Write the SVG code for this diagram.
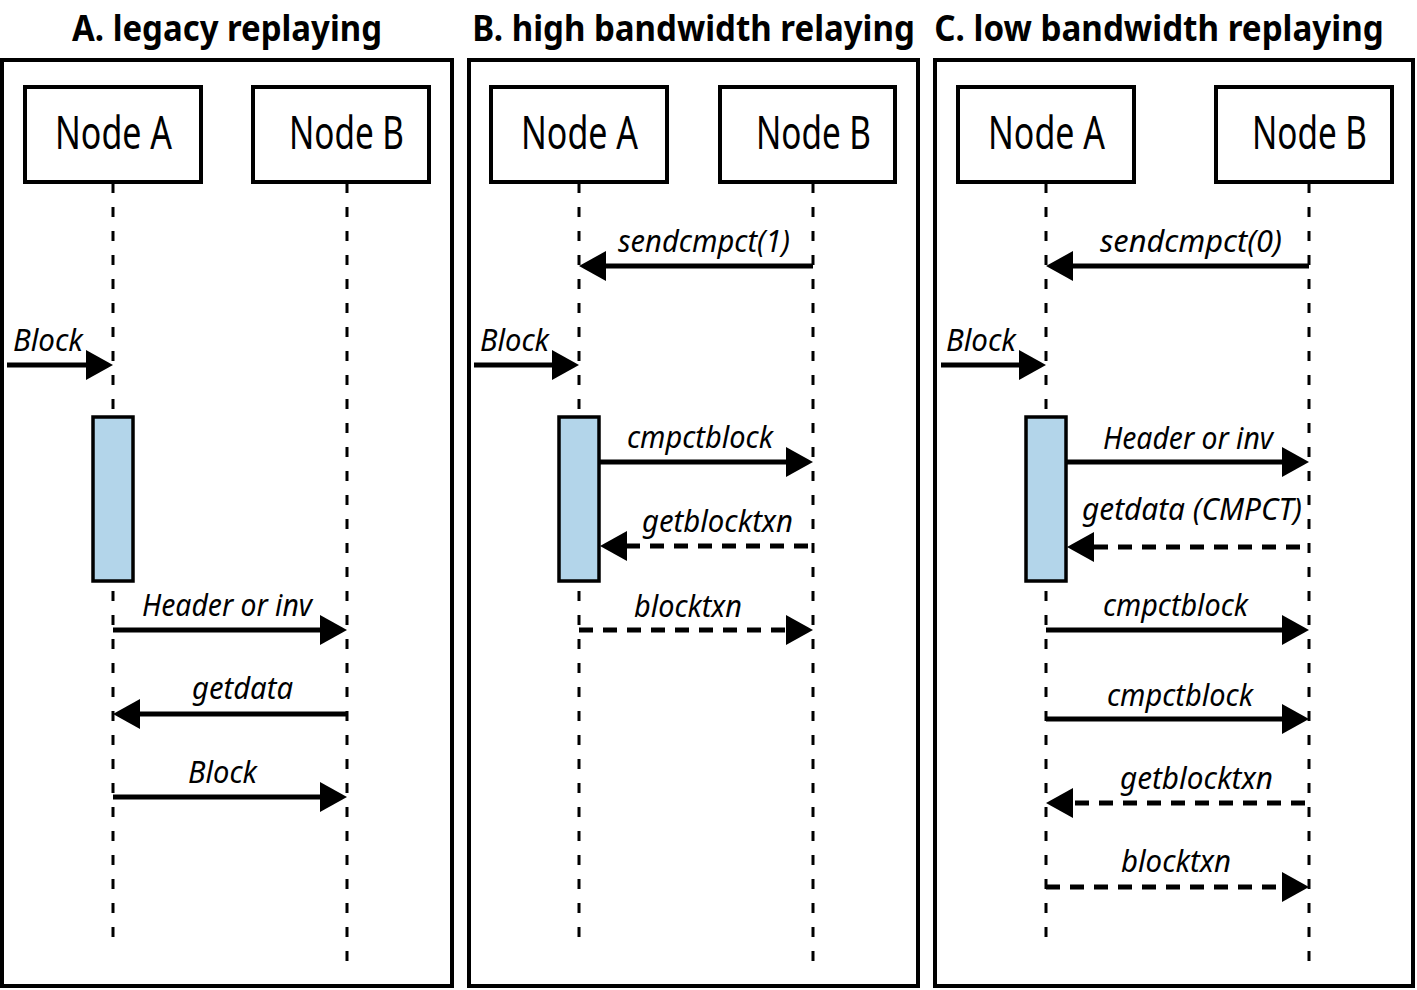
<svg xmlns="http://www.w3.org/2000/svg" width="1417" height="990" viewBox="0 0 1417 990">
<style>
.bg{fill:#fff}
.frame{fill:none;stroke:#000;stroke-width:4}
.box{fill:#fff;stroke:#000;stroke-width:4}
.act{fill:#b3d5ea;stroke:#000;stroke-width:3.5}
.life{stroke:#000;stroke-width:3;stroke-dasharray:10 14;fill:none}
.msg{stroke:#000;stroke-width:5;fill:none;marker-end:url(#ah)}
.dash{stroke-dasharray:14 10}
.title{font-family:"Noto Sans","Open Sans","Liberation Sans",sans-serif;font-weight:bold;font-size:36px;text-anchor:middle;fill:#000}
.nt{font-family:"Noto Sans","Open Sans","Liberation Sans",sans-serif;font-size:45px;text-anchor:middle;fill:#000}
.lbl{font-family:"Noto Sans","Open Sans","Liberation Sans",sans-serif;font-style:italic;font-size:31px;text-anchor:middle;fill:#000}
</style>
<defs>
<marker id="ah" viewBox="0 0 27 30" refX="17" refY="15" markerWidth="27" markerHeight="30" markerUnits="userSpaceOnUse" orient="auto">
<path d="M0,0 L27,15 L0,30 Z" fill="#000"/>
</marker>
</defs>
<rect class="bg" x="0" y="0" width="1417" height="990"/>

<g id="panelA">
<text class="title" transform="translate(227,41) scale(0.84,1)" x="0" y="0" textLength="369" lengthAdjust="spacingAndGlyphs">A. legacy replaying</text>
<rect class="frame" x="2" y="60" width="450" height="926"/>
</g>
<g id="panelB">
<text class="title" transform="translate(693.5,41) scale(0.84,1)" x="0" y="0" textLength="527" lengthAdjust="spacingAndGlyphs">B. high bandwidth relaying</text>
<rect class="frame" x="469" y="60" width="449" height="926"/>
</g>
<g id="panelC">
<text class="title" transform="translate(1159,41) scale(0.84,1)" x="0" y="0" textLength="535" lengthAdjust="spacingAndGlyphs">C. low bandwidth replaying</text>
<rect class="frame" x="935" y="60" width="478" height="926"/>
</g>

<g id="A-nodeA">
<line class="life" x1="113" y1="183" x2="113" y2="944"/>
<rect class="box" x="25" y="87" width="176" height="95"/>
<text class="nt" x="113.5" y="149" textLength="117" lengthAdjust="spacingAndGlyphs">Node A</text>
</g>
<g id="A-nodeB">
<line class="life" x1="347" y1="183" x2="347" y2="962"/>
<rect class="box" x="253" y="87" width="176" height="95"/>
<text class="nt" x="346.5" y="149" textLength="115" lengthAdjust="spacingAndGlyphs">Node B</text>
</g>
<g id="A-activation">
<rect class="act" x="93" y="417" width="40" height="164"/>
</g>

<g id="B-nodeA">
<line class="life" x1="579" y1="183" x2="579" y2="944"/>
<rect class="box" x="491" y="87" width="176" height="95"/>
<text class="nt" x="579.5" y="149" textLength="117" lengthAdjust="spacingAndGlyphs">Node A</text>
</g>
<g id="B-nodeB">
<line class="life" x1="813" y1="183" x2="813" y2="962"/>
<rect class="box" x="720" y="87" width="175" height="95"/>
<text class="nt" x="813.5" y="149" textLength="115" lengthAdjust="spacingAndGlyphs">Node B</text>
</g>
<g id="B-activation">
<rect class="act" x="559" y="417" width="40" height="164"/>
</g>

<g id="C-nodeA">
<line class="life" x1="1046" y1="183" x2="1046" y2="944"/>
<rect class="box" x="958" y="87" width="176" height="95"/>
<text class="nt" x="1046.5" y="149" textLength="117" lengthAdjust="spacingAndGlyphs">Node A</text>
</g>
<g id="C-nodeB">
<line class="life" x1="1309" y1="183" x2="1309" y2="962"/>
<rect class="box" x="1216" y="87" width="176" height="95"/>
<text class="nt" x="1309.5" y="149" textLength="115" lengthAdjust="spacingAndGlyphs">Node B</text>
</g>
<g id="C-activation">
<rect class="act" x="1026" y="417" width="40" height="164"/>
</g>

<g id="connectors">
<line class="msg" x1="7" y1="365" x2="103" y2="365"/>
<text class="lbl" x="48" y="351" textLength="70" lengthAdjust="spacingAndGlyphs">Block</text>
<line class="msg" x1="113" y1="630" x2="337" y2="630"/>
<text class="lbl" x="227" y="616" textLength="170" lengthAdjust="spacingAndGlyphs">Header or inv</text>
<line class="msg" x1="347" y1="714" x2="123" y2="714"/>
<text class="lbl" x="242.5" y="699" textLength="101" lengthAdjust="spacingAndGlyphs">getdata</text>
<line class="msg" x1="113" y1="797" x2="337" y2="797"/>
<text class="lbl" x="222.5" y="783" textLength="69" lengthAdjust="spacingAndGlyphs">Block</text>

<line class="msg" x1="813" y1="266" x2="589" y2="266"/>
<text class="lbl" x="704" y="252" textLength="172" lengthAdjust="spacingAndGlyphs">sendcmpct(1)</text>
<line class="msg" x1="474" y1="365" x2="569" y2="365"/>
<text class="lbl" x="514.5" y="351" textLength="69" lengthAdjust="spacingAndGlyphs">Block</text>
<line class="msg" x1="600" y1="462" x2="803" y2="462"/>
<text class="lbl" x="700" y="448" textLength="146" lengthAdjust="spacingAndGlyphs">cmpctblock</text>
<line class="msg dash" x1="808" y1="546" x2="610" y2="546"/>
<text class="lbl" x="717.5" y="532" textLength="151" lengthAdjust="spacingAndGlyphs">getblocktxn</text>
<line class="msg dash" x1="579" y1="630" x2="803" y2="630"/>
<text class="lbl" x="688" y="617" textLength="108" lengthAdjust="spacingAndGlyphs">blocktxn</text>

<line class="msg" x1="1309" y1="266" x2="1056" y2="266"/>
<text class="lbl" x="1191" y="252" textLength="182" lengthAdjust="spacingAndGlyphs">sendcmpct(0)</text>
<line class="msg" x1="941" y1="365" x2="1036" y2="365"/>
<text class="lbl" x="981" y="351" textLength="70" lengthAdjust="spacingAndGlyphs">Block</text>
<line class="msg" x1="1067" y1="462" x2="1299" y2="462"/>
<text class="lbl" x="1188" y="449" textLength="170" lengthAdjust="spacingAndGlyphs">Header or inv</text>
<line class="msg dash" x1="1300" y1="547" x2="1077" y2="547"/>
<text class="lbl" x="1192" y="520" textLength="220" lengthAdjust="spacingAndGlyphs">getdata (CMPCT)</text>
<line class="msg" x1="1046" y1="630" x2="1299" y2="630"/>
<text class="lbl" x="1175.5" y="616" textLength="145" lengthAdjust="spacingAndGlyphs">cmpctblock</text>
<line class="msg" x1="1046" y1="719" x2="1299" y2="719"/>
<text class="lbl" x="1180" y="706" textLength="146" lengthAdjust="spacingAndGlyphs">cmpctblock</text>
<line class="msg dash" x1="1305" y1="803" x2="1056" y2="803"/>
<text class="lbl" x="1196.5" y="789" textLength="153" lengthAdjust="spacingAndGlyphs">getblocktxn</text>
<line class="msg dash" x1="1046" y1="887" x2="1299" y2="887"/>
<text class="lbl" x="1176" y="872" textLength="110" lengthAdjust="spacingAndGlyphs">blocktxn</text>
</g>
</svg>
